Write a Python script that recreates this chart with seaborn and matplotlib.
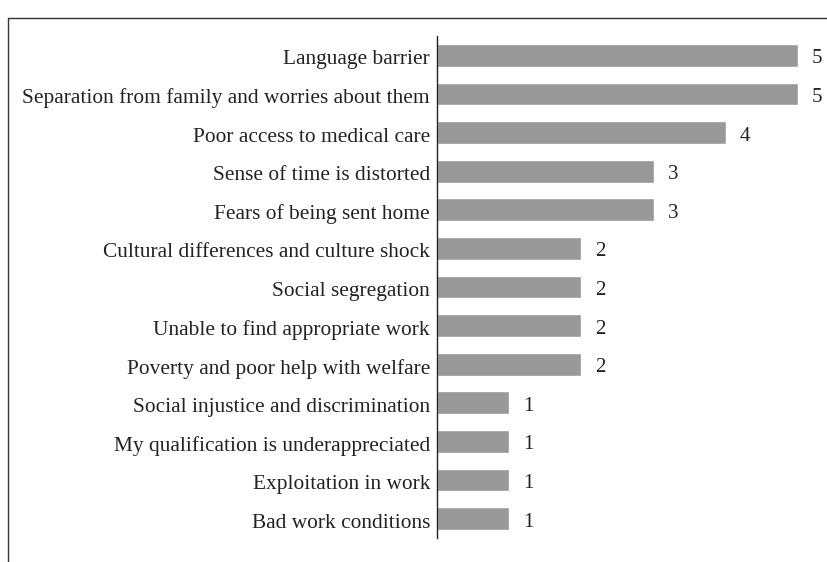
import matplotlib
matplotlib.use("Agg")
import matplotlib.pyplot as plt
import matplotlib.transforms as mtransforms
import seaborn as sns
import pandas as pd
from matplotlib.lines import Line2D

categories = [
    "Language barrier",
    "Separation from family and worries about them",
    "Poor access to medical care",
    "Sense of time is distorted",
    "Fears of being sent home",
    "Cultural differences and culture shock",
    "Social segregation",
    "Unable to find appropriate work",
    "Poverty and poor help with welfare",
    "Social injustice and discrimination",
    "My qualification is underappreciated",
    "Exploitation in work",
    "Bad work conditions",
]
values = [5, 5, 4, 3, 3, 2, 2, 2, 2, 1, 1, 1, 1]

df = pd.DataFrame({"category": categories, "value": values})

sns.set_theme(style="white")
plt.rcParams["font.family"] = ["Liberation Serif", "DejaVu Serif"]

fig = plt.figure(figsize=(8.27, 5.62), dpi=100)
ax = fig.add_axes([437 / 827, 1 - 538 / 562, 361 / 827, (538 - 36) / 562])

sns.barplot(data=df, x="value", y="category", orient="h", color="#999999",
            saturation=1, width=0.59, ax=ax)

ax.set_xlim(0, 5)
ax.set_ylim(12.5, -0.5)
ax.set_xlabel("")
ax.set_ylabel("")
ax.set_xticks([])
for s in ["top", "right", "bottom"]:
    ax.spines[s].set_visible(False)
ax.spines["left"].set_color("#222222")
ax.spines["left"].set_linewidth(1.0)
ax.tick_params(axis="y", length=0, pad=5, labelsize=15.4, labelcolor="#222222")

# nudge text slightly down so cap-height centres on the bars
offset = mtransforms.ScaledTranslation(0, -1.5 / 72, fig.dpi_scale_trans)
for lbl in ax.get_yticklabels():
    lbl.set_transform(lbl.get_transform() + offset)

for c in ax.containers:
    texts = ax.bar_label(c, padding=10, fontsize=15, color="#222222", clip_on=False)
    for t in texts:
        x0, y0 = t.xyann
        t.xyann = (x0, y0 - 2.5)

# outer frame (top and left edges)
fig.add_artist(Line2D([8 / 827, 1], [1 - 18 / 562, 1 - 18 / 562],
                      transform=fig.transFigure, color="#333333", lw=1.0))
fig.add_artist(Line2D([8 / 827, 8 / 827], [0, 1 - 18 / 562],
                      transform=fig.transFigure, color="#333333", lw=1.0))

fig.savefig("out.png", dpi=100)
